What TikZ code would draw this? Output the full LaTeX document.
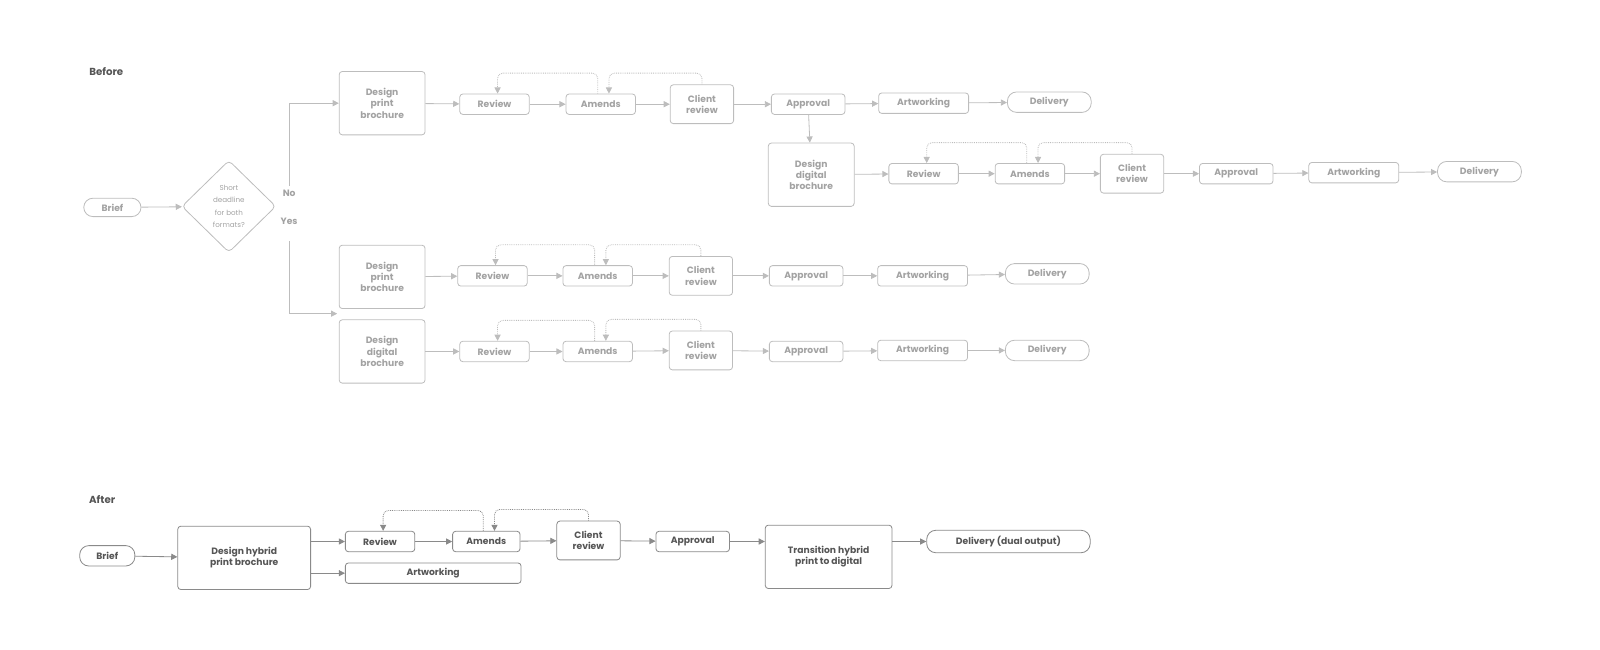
\documentclass[tikz,border=0pt]{standalone}
\usepackage{fontspec}
\setmainfont{Poppins}
\usetikzlibrary{shapes.geometric,arrows.meta,calc}
\definecolor{litegray}{HTML}{BDBDBD}
\definecolor{litetext}{HTML}{A2A2A2}
\definecolor{darkgray}{HTML}{8A8A8A}
\definecolor{darktext}{HTML}{555555}
\tikzset{
  box/.style={draw=litegray, rounded corners=3pt, text=litetext, font=\fontsize{9}{11}\selectfont\bfseries, align=center, inner sep=0pt, line width=0.8pt},
  pill/.style={box, rounded corners=9pt},
  flow/.style={draw=litegray, line width=0.8pt, -{Triangle[length=6pt,width=6pt]}},
  loop/.style={flow, densely dotted, rounded corners=5pt},
  after/.style={draw=darkgray, text=darktext},
  aflow/.style={draw=darkgray},
}
\begin{document}
\begin{tikzpicture}[x=1pt, y=-1pt]
  \useasboundingbox (0,0) rectangle (1566,636);
  \node[font=\fontsize{10}{12}\selectfont\bfseries, text=darktext] (before) at (104,70) {Before};
  \node[font=\fontsize{10}{12}\selectfont\bfseries, text=darktext] (after) at (100,489) {After};

  % decision
  \node[pill, minimum width=56, minimum height=18] (brief) at (110,203) {Brief};
  \node[diamond, draw=litegray, rounded corners=4pt, minimum width=92, minimum height=90, inner sep=0pt, align=center, text=litetext, font=\fontsize{7}{12}\selectfont, line width=0.8pt] (dec) at (224,202) {Short\\deadline\\for both\\formats?};
  \node[text=litetext, font=\fontsize{9}{11}\selectfont\bfseries] (no) at (283,189) {No};
  \node[text=litetext, font=\fontsize{9}{11}\selectfont\bfseries] (yes) at (283,217) {Yes};
  \draw[flow] (brief) -- (dec);

  % row 1
  \node[box, minimum width=84, minimum height=62] (dp1) at (374,101) {Design\\print\\brochure};
  \node[box, minimum width=68, minimum height=20] (rv1) at (484,102) {Review};
  \node[box, minimum width=68, minimum height=20] (am1) at (588,102) {Amends};
  \node[box, minimum width=62, minimum height=38] (cr1) at (687,102) {Client\\review};
  \node[box, minimum width=72, minimum height=20] (ap1) at (791,102) {Approval};
  \node[box, minimum width=88, minimum height=20] (aw1) at (904,101) {Artworking};
  \node[pill, minimum width=82, minimum height=20] (dl1) at (1027,100) {Delivery};
  % row 2
  \node[box, minimum width=84, minimum height=62] (dd2) at (794,171) {Design\\digital\\brochure};
  \node[box, minimum width=68, minimum height=20] (rv2) at (904,170) {Review};
  \node[box, minimum width=68, minimum height=20] (am2) at (1008,170) {Amends};
  \node[box, minimum width=62, minimum height=38] (cr2) at (1108,170) {Client\\review};
  \node[box, minimum width=72, minimum height=20] (ap2) at (1210,170) {Approval};
  \node[box, minimum width=88, minimum height=20] (aw2) at (1325,169) {Artworking};
  \node[pill, minimum width=82, minimum height=20] (dl2) at (1448,168) {Delivery};
  % row 3
  \node[box, minimum width=84, minimum height=62] (dp3) at (374,271) {Design\\print\\brochure};
  \node[box, minimum width=68, minimum height=20] (rv3) at (482,270) {Review};
  \node[box, minimum width=68, minimum height=20] (am3) at (585,270) {Amends};
  \node[box, minimum width=62, minimum height=38] (cr3) at (686,270) {Client\\review};
  \node[box, minimum width=72, minimum height=20] (ap3) at (789,270) {Approval};
  \node[box, minimum width=88, minimum height=20] (aw3) at (903,270) {Artworking};
  \node[pill, minimum width=82, minimum height=20] (dl3) at (1025,268) {Delivery};
  % row 4
  \node[box, minimum width=84, minimum height=62] (dd4) at (374,344) {Design\\digital\\brochure};
  \node[box, minimum width=68, minimum height=20] (rv4) at (484,344) {Review};
  \node[box, minimum width=68, minimum height=20] (am4) at (585,344) {Amends};
  \node[box, minimum width=62, minimum height=38] (cr4) at (686,343) {Client\\review};
  \node[box, minimum width=72, minimum height=20] (ap4) at (789,344) {Approval};
  \node[box, minimum width=88, minimum height=20] (aw4) at (903,343) {Artworking};
  \node[pill, minimum width=82, minimum height=20] (dl4) at (1025,343) {Delivery};

  \coordinate (split) at (283,236);
  \draw[flow] (no.north) |- (dp1.west);
  \draw[flow] (split) |- (330,307);
  \draw[flow] (ap1) -- (dd2);

  \foreach \d/\r in {dp1/1, dd2/2, dp3/3, dd4/4}{
    \draw[flow] (\d) -- (rv\r);
    \draw[flow] (rv\r) -- (am\r);
    \draw[flow] (am\r) -- (cr\r);
    \draw[flow] (cr\r) -- (ap\r);
    \draw[flow] (ap\r) -- (aw\r);
    \draw[flow] (aw\r) -- (dl\r);
    \draw[loop] ($(am\r.north)+(-3,0)$) -- ++(0,-20) -| ($(rv\r.north)+(3,0)$);
    \draw[loop] (cr\r.north) -- ++(0,-11) -| ($(am\r.north)+(8,0)$);
  }

  % after
  \node[pill, after, minimum width=54, minimum height=20] (brf) at (105,544) {Brief};
  \node[box, after, minimum width=130, minimum height=62] (hyb) at (239,546) {Design hybrid\\print brochure};
  \node[box, after, minimum width=68, minimum height=20] (arv) at (372,530) {Review};
  \node[box, after, minimum width=66, minimum height=20] (aam) at (476,530) {Amends};
  \node[box, after, minimum width=62, minimum height=38] (acr) at (576,529) {Client\\review};
  \node[box, after, minimum width=72, minimum height=20] (aap) at (678,530) {Approval};
  \node[box, after, minimum width=124, minimum height=62] (trn) at (811,545) {Transition hybrid\\print to digital};
  \node[pill, after, minimum width=160, minimum height=22] (adl) at (987,530) {Delivery (dual output)};
  \node[box, after, minimum width=172, minimum height=20] (aaw) at (424,561) {Artworking};

  \draw[flow, aflow] (brf) -- (hyb);
  \draw[flow, aflow] (hyb.east |- arv) -- (arv);
  \draw[flow, aflow] (hyb.east |- aaw) -- (aaw);
  \draw[flow, aflow] (arv) -- (aam);
  \draw[flow, aflow] (aam) -- (acr);
  \draw[flow, aflow] (acr) -- (aap);
  \draw[flow, aflow] (aap) -- (trn.west |- aap);
  \draw[flow, aflow] (trn.east |- adl) -- (adl);
  \draw[loop, aflow] ($(aam.north)+(-3,0)$) -- ++(0,-20) -| ($(arv.north)+(3,0)$);
  \draw[loop, aflow] (acr.north) -- ++(0,-11) -| ($(aam.north)+(8,0)$);
\end{tikzpicture}
\end{document}
